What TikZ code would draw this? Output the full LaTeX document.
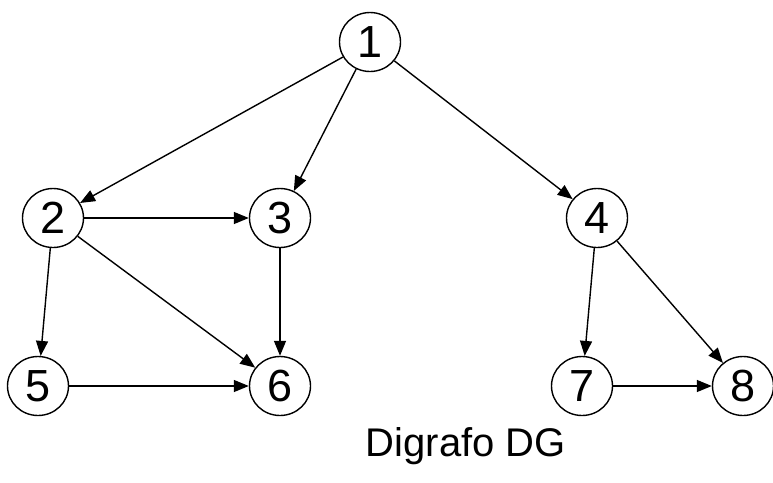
\documentclass[tikz,border=0pt]{standalone}
\usepackage{fontspec}
\setmainfont{Liberation Sans}
\usetikzlibrary{shapes.geometric,arrows.meta}
\begin{document}
\begin{tikzpicture}[x=1pt,y=-1pt,
  vert/.style={ellipse,draw,line width=1.4pt,minimum width=61pt,minimum height=59pt,inner sep=0pt,font=\fontsize{45}{45}\selectfont},
  edge/.style={line width=1.4pt,-{Triangle[length=15pt,width=12pt]}}]
\useasboundingbox (0,0) rectangle (773,482);
\node[vert] (n1) at (370,42) {1};
\node[vert] (n2) at (53,218) {2};
\node[vert] (n3) at (280,218) {3};
\node[vert] (n4) at (597,218) {4};
\node[vert] (n5) at (38,386) {5};
\node[vert] (n6) at (280,386) {6};
\node[vert] (n7) at (582,386) {7};
\node[vert] (n8) at (743,386) {8};
\node[font=\fontsize{40}{40}\selectfont] (cap) at (466,446) {Digrafo DG};
\draw[edge] (n1) -- (n2);
\draw[edge] (n1) -- (n3);
\draw[edge] (n1) -- (n4);
\draw[edge] (n2) -- (n3);
\draw[edge] (n2) -- (n5);
\draw[edge] (n2) -- (n6);
\draw[edge] (n3) -- (n6);
\draw[edge] (n5) -- (n6);
\draw[edge] (n4) -- (n7);
\draw[edge] (n4) -- (n8);
\draw[edge] (n7) -- (n8);
\end{tikzpicture}
\end{document}
